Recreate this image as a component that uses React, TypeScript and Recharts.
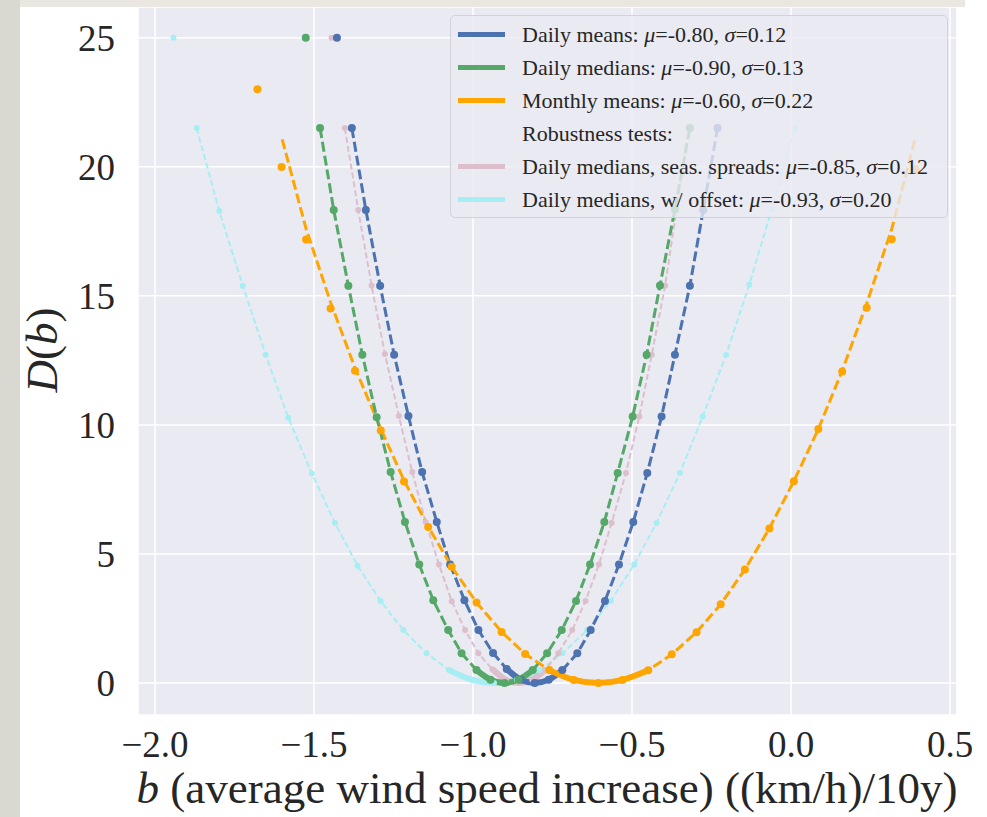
import React from "react";
import { ComposedChart, Line, XAxis, YAxis, CartesianGrid, Legend } from "recharts";

const FONT = '"Liberation Serif", "Times New Roman", serif';
const INK = "#262626";

// axis ticks
const xTicks = [-2.0, -1.5, -1.0, -0.5, 0.0, 0.5];
const yTicks = [0, 5, 10, 15, 20, 25];

// Daily means
const meansB = [-1.381, -1.337, -1.292, -1.248, -1.203, -1.16, -1.114, -1.072, -1.027, -0.983, -0.937, -0.894, -0.85, -0.806, -0.762, -0.719, -0.672, -0.63, -0.585, -0.541, -0.496, -0.452, -0.407, -0.365, -0.318, -0.276, -0.231];
const meansD = [21.5, 18.33, 15.39, 12.72, 10.34, 8.17, 6.24, 4.59, 3.21, 2.05, 1.16, 0.54, 0.13, 0.0, 0.13, 0.5, 1.15, 2.05, 3.18, 4.59, 6.24, 8.14, 10.32, 12.72, 15.39, 18.33, 21.5];
const meansOutB = [-1.428];
const meansOutD = [25.0];

// Daily medians
const mediansB = [-1.481, -1.438, -1.392, -1.348, -1.303, -1.259, -1.214, -1.169, -1.125, -1.078, -1.036, -0.989, -0.945, -0.901, -0.857, -0.812, -0.767, -0.721, -0.676, -0.632, -0.587, -0.545, -0.498, -0.454, -0.412, -0.365, -0.318];
const mediansD = [21.5, 18.33, 15.39, 12.72, 10.3, 8.17, 6.24, 4.59, 3.21, 2.05, 1.15, 0.5, 0.13, 0.0, 0.13, 0.5, 1.15, 2.05, 3.18, 4.59, 6.24, 8.14, 10.32, 12.72, 15.4, 18.35, 21.5];
const mediansOutB = [-1.526];
const mediansOutD = [25.0];

// Monthly means: markers, and the dashed curve drawn through them
const monthlyB = [-1.602, -1.525, -1.448, -1.371, -1.29, -1.217, -1.141, -1.067, -0.989, -0.91, -0.836, -0.76, -0.683, -0.606, -0.53, -0.449, -0.375, -0.297, -0.221, -0.145, -0.068, 0.009, 0.086, 0.161, 0.238, 0.317, 0.392];
const monthlyD = [19.99, 17.18, 14.51, 12.1, 9.78, 7.81, 6.04, 4.5, 3.12, 1.98, 1.12, 0.5, 0.12, 0.0, 0.12, 0.49, 1.11, 1.97, 3.05, 4.4, 5.99, 7.82, 9.84, 12.07, 14.54, 17.19, 19.9];
const monthlyOutB = [-1.678];
const monthlyOutD = [23.0];
const monthlyCurveB = [-1.6, -1.525, -1.448, -1.371, -1.29, -1.217, -1.141, -1.067, -0.989, -0.91, -0.836, -0.76, -0.683, -0.606, -0.53, -0.449, -0.375, -0.297, -0.221, -0.145, -0.068, 0.009, 0.086, 0.161, 0.238, 0.317, 0.39];
const monthlyCurveD = [21.06, 17.6, 14.75, 12.2, 9.85, 7.85, 6.06, 4.5, 3.12, 1.98, 1.12, 0.5, 0.12, 0.0, 0.12, 0.49, 1.11, 1.97, 3.05, 4.4, 5.99, 7.82, 9.84, 12.1, 14.7, 17.6, 21.06];

// Daily medians, seasonal spreads
const spreadsB = [-1.403, -1.361, -1.319, -1.277, -1.233, -1.191, -1.149, -1.107, -1.067, -1.025, -0.983, -0.938, -0.897, -0.855, -0.814, -0.773, -0.732, -0.688, -0.646, -0.604, -0.564, -0.519, -0.477, -0.438, -0.396, -0.36, -0.323];
const spreadsD = [21.5, 18.33, 15.4, 12.75, 10.34, 8.17, 6.24, 4.59, 3.17, 2.05, 1.15, 0.52, 0.13, 0.0, 0.13, 0.5, 1.15, 2.05, 3.18, 4.59, 6.2, 8.14, 10.32, 12.72, 15.39, 18.33, 21.5];
const spreadsOutB = [-1.445];
const spreadsOutD = [25.0];

// Daily medians with offset
const offsetB = [-1.869, -1.798, -1.724, -1.652, -1.581, -1.507, -1.434, -1.363, -1.291, -1.219, -1.146, -1.075, -1.005, -0.934, -0.862, -0.79, -0.719, -0.641, -0.567, -0.493, -0.423, -0.349, -0.278, -0.204, -0.131, -0.061, 0.013];
const offsetD = [21.5, 18.29, 15.39, 12.72, 10.28, 8.12, 6.2, 4.54, 3.18, 2.05, 1.15, 0.5, 0.13, 0.0, 0.13, 0.5, 1.15, 2.05, 3.18, 4.59, 6.2, 8.14, 10.32, 12.72, 15.44, 18.33, 21.5];
const offsetOutB = [-1.942];
const offsetOutD = [25.0];

// legend entries
const legendNames = ["Daily means", "Daily medians", "Monthly means", "Daily medians, seas. spreads", "Daily medians, w/ offset"];
const legendMu = ["-0.80", "-0.90", "-0.60", "-0.85", "-0.93"];
const legendSigma = ["0.12", "0.13", "0.22", "0.12", "0.20"];

const BLUE = "#4C72B0";
const GREEN = "#55A868";
const ORANGE = "#FFA500";
const PINK = "#DDBFCB";
const CYAN = "#A6EEF3";

const rows = (bs: number[], ds: number[]) => bs.map((b, i) => ({ b, D: ds[i] }));

type S = {
  id: string;
  color: string;
  w: number;
  dash: string;
  r: number;
  curve: { b: number; D: number }[];
  dots: { b: number; D: number }[] | null;
  out: { b: number; D: number }[];
};

const series: S[] = [
  { id: "offset", color: CYAN, w: 2, dash: "6 3", r: 3, curve: rows(offsetB, offsetD), dots: null, out: rows(offsetOutB, offsetOutD) },
  { id: "spreads", color: PINK, w: 2, dash: "6 3", r: 3, curve: rows(spreadsB, spreadsD), dots: null, out: rows(spreadsOutB, spreadsOutD) },
  { id: "means", color: BLUE, w: 3, dash: "10 4", r: 4, curve: rows(meansB, meansD), dots: null, out: rows(meansOutB, meansOutD) },
  { id: "monthly", color: ORANGE, w: 3, dash: "10 4", r: 4, curve: rows(monthlyCurveB, monthlyCurveD), dots: rows(monthlyB, monthlyD), out: rows(monthlyOutB, monthlyOutD) },
  { id: "medians", color: GREEN, w: 3, dash: "10 4", r: 4, curve: rows(mediansB, mediansD), dots: null, out: rows(mediansOutB, mediansOutD) },
];

const legendColors = [BLUE, GREEN, ORANGE, PINK, CYAN];

const fmtX = (v: number) => (v < 0 ? "\u2212" : "") + Math.abs(v).toFixed(1);

const XTick = (p: any) => (
  <text x={p.x} y={p.y + 42} textAnchor="middle" fontFamily={FONT} fontSize={37} fill={INK}>
    {fmtX(p.payload.value)}
  </text>
);

const YTick = (p: any) => (
  <text x={p.x - 23} y={p.y + 13} textAnchor="end" fontFamily={FONT} fontSize={37} fill={INK}>
    {p.payload.value}
  </text>
);

const XTitle = () => (
  <text x={547} y={803} textAnchor="middle" fontFamily={FONT} fontSize={45} fill={INK}>
    <tspan fontStyle="italic">b</tspan> (average wind speed increase) ((km/h)/10y)
  </text>
);

const YTitle = () => (
  <text x={57} y={350} transform="rotate(-90, 57, 350)" textAnchor="middle" fontFamily={FONT} fontSize={45} fill={INK}>
    <tspan fontStyle="italic">D</tspan>(<tspan fontStyle="italic">b</tspan>)
  </text>
);

function LegendRow({ color, children }: { color: string | null; children: React.ReactNode }) {
  return (
    <div style={{ display: "flex", alignItems: "center", height: 33 }}>
      <span style={{ display: "inline-block", width: 47, height: 5, background: color || "transparent", marginRight: 17 }} />
      <span style={{ whiteSpace: "nowrap" }}>{children}</span>
    </div>
  );
}

function LegendBox() {
  const entry = (i: number) => (
    <LegendRow key={i} color={legendColors[i]}>
      {legendNames[i]}: <i>μ</i>={legendMu[i]}, <i>σ</i>={legendSigma[i]}
    </LegendRow>
  );
  return (
    <div
      style={{
        boxSizing: "border-box",
        width: 498,
        height: 203,
        background: "rgba(234,234,242,0.8)",
        border: "1px solid #d2d2d8",
        borderRadius: 5,
        padding: "2px 0 0 7px",
        fontFamily: FONT,
        fontSize: 22,
        color: INK,
        lineHeight: 1,
      }}
    >
      {entry(0)}
      {entry(1)}
      {entry(2)}
      <LegendRow color={null}>Robustness tests:</LegendRow>
      {entry(3)}
      {entry(4)}
    </div>
  );
}

export default function App() {
  return (
    <div style={{ position: "absolute", left: 0, top: 0, width: 987, height: 817, background: "#fff", overflow: "hidden" }}>
      <ComposedChart width={987} height={817} margin={{ top: 7, right: 30, left: 0, bottom: 0 }}>
        <CartesianGrid fill="#EAEAF2" stroke="#FFFFFF" strokeWidth={1.5} />
        <XAxis
          type="number"
          dataKey="b"
          domain={[-2.0535, 0.522]}
          allowDataOverflow
          ticks={xTicks}
          height={102}
          axisLine={false}
          tickLine={false}
          tickSize={0}
          tickMargin={0}
          tick={XTick}
          label={{ content: XTitle }}
        />
        <YAxis
          type="number"
          dataKey="D"
          domain={[-1.24, 26.19]}
          allowDataOverflow
          ticks={yTicks}
          width={138}
          axisLine={false}
          tickLine={false}
          tickSize={0}
          tickMargin={0}
          tick={YTick}
          label={{ content: YTitle }}
        />
        {series.map((s) => (
          <Line
            key={"curve-" + s.id}
            name={"curve-" + s.id}
            data={s.curve}
            dataKey="D"
            type="linear"
            stroke={s.color}
            strokeWidth={s.w}
            strokeDasharray={s.dash}
            dot={s.dots ? false : { r: s.r, fill: s.color, stroke: s.color, strokeWidth: 0 }}
            activeDot={false}
            isAnimationActive={false}
          />
        ))}
        {series
          .filter((s) => s.dots)
          .map((s) => (
            <Line
              key={"dots-" + s.id}
              name={"dots-" + s.id}
              data={s.dots as any}
              dataKey="D"
              stroke="none"
              dot={{ r: s.r, fill: s.color, stroke: s.color, strokeWidth: 0 }}
              activeDot={false}
              isAnimationActive={false}
            />
          ))}
        {series.map((s) => (
          <Line
            key={"out-" + s.id}
            name={"out-" + s.id}
            data={s.out}
            dataKey="D"
            stroke="none"
            dot={{ r: s.r, fill: s.color, stroke: s.color, strokeWidth: 0 }}
            activeDot={false}
            isAnimationActive={false}
          />
        ))}
        {series.map((s) => (
          <Line
            key={"min-" + s.id}
            name={"min-" + s.id}
            data={s.curve.slice(11, 16)}
            dataKey="D"
            type="monotone"
            stroke={s.color}
            strokeWidth={6}
            strokeLinecap="round"
            dot={false}
            activeDot={false}
            isAnimationActive={false}
          />
        ))}
        <Legend
          content={LegendBox}
          layout="vertical"
          align="center"
          verticalAlign="middle"
          wrapperStyle={{ left: 450, top: 15, width: 498, height: 203 }}
        />
      </ComposedChart>
      <div style={{ position: "absolute", left: 0, top: 0, width: 965, height: 7, background: "#e9e7e0" }} />
      <div style={{ position: "absolute", left: 0, top: 0, width: 20, height: 817, background: "#d9d8d1" }} />
    </div>
  );
}
